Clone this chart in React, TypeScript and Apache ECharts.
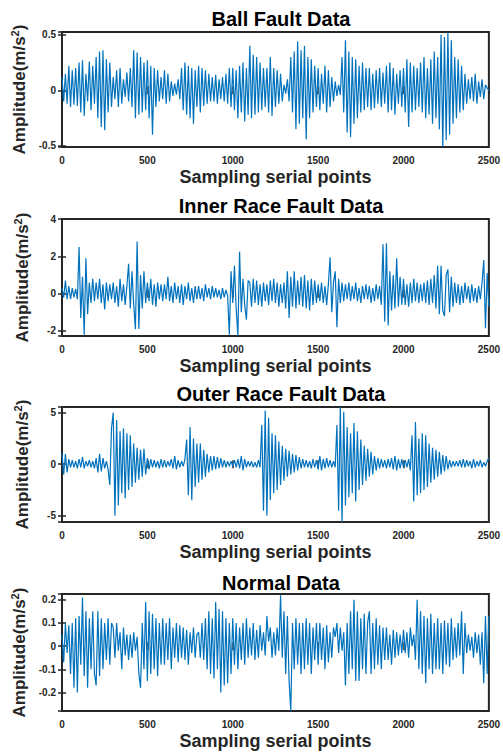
import React, { useEffect, useRef } from "react";
import * as echarts from "echarts";

const TITLES = ["Ball Fault Data", "Inner Race Fault Data", "Outer Race Fault Data", "Normal Data"];
const X_LABEL = "Sampling serial points";
const Y_LABEL = "Amplitude(m/s{sup|2})";
const SAMPLE_STEP = 10;
const X_TICKS = [0, 500, 1000, 1500, 2000, 2500];

const ballFault = [
  0.12, -0.10, 0.15, -0.12, 0.22, -0.15, 0.18, -0.13, 0.20, -0.14,
  0.25, -0.20, 0.27, -0.23, 0.15, -0.10, 0.26, -0.18, 0.22, -0.12,
  0.30, -0.25, 0.35, -0.33, 0.36, -0.36, 0.28, -0.20, 0.25, -0.15,
  0.12, -0.08, 0.18, -0.15, 0.20, -0.12, 0.10, -0.06, 0.16, -0.10,
  0.20, -0.15, 0.36, -0.25, 0.34, -0.22, 0.30, -0.20, 0.25, -0.18,
  0.27, -0.25, 0.22, -0.40, 0.20, -0.15, 0.18, -0.10, 0.12, -0.08,
  0.18, -0.12, 0.15, -0.10, 0.08, -0.05, 0.06, -0.04, 0.10, -0.08,
  0.20, -0.18, 0.25, -0.22, 0.22, -0.25, 0.20, -0.30, 0.18, -0.15,
  0.22, -0.20, 0.20, -0.14, 0.18, -0.12, 0.15, -0.10, 0.12, -0.10,
  0.14, -0.12, 0.10, -0.08, 0.12, -0.10, 0.15, -0.12, 0.20, -0.15,
  0.20, -0.18, 0.18, -0.25, 0.22, -0.20, 0.25, -0.28, 0.20, -0.22,
  0.40, -0.25, 0.32, -0.22, 0.30, -0.20, 0.25, -0.18, 0.20, -0.15,
  0.20, -0.20, 0.30, -0.23, 0.20, -0.15, 0.18, -0.12, 0.15, -0.10,
  0.05, -0.03, 0.10, -0.10, 0.30, -0.20, 0.35, -0.35, 0.44, -0.30,
  0.36, -0.25, 0.40, -0.44, 0.30, -0.25, 0.28, -0.20, 0.22, -0.15,
  0.20, -0.18, 0.15, -0.12, 0.22, -0.20, 0.18, -0.15, 0.12, -0.10,
  0.08, -0.05, 0.05, -0.04, 0.30, -0.20, 0.45, -0.38, 0.35, -0.42,
  0.30, -0.30, 0.28, -0.25, 0.22, -0.20, 0.25, -0.18, 0.20, -0.15,
  0.20, -0.18, 0.15, -0.16, 0.18, -0.12, 0.20, -0.15, 0.16, -0.12,
  0.22, -0.20, 0.25, -0.18, 0.20, -0.22, 0.15, -0.12, 0.18, -0.15,
  0.20, -0.20, 0.28, -0.33, 0.25, -0.20, 0.22, -0.18, 0.20, -0.15,
  0.25, -0.20, 0.30, -0.25, 0.20, -0.22, 0.28, -0.30, 0.35, -0.25,
  0.30, -0.35, 0.50, -0.51, 0.48, -0.45, 0.52, -0.40, 0.45, -0.30,
  0.30, -0.25, 0.28, -0.20, 0.22, -0.18, 0.15, -0.12, 0.10, -0.08,
  0.12, -0.10, 0.15, -0.12, 0.08, -0.06, 0.10, -0.08, 0.05, 0.02,
  0.0,
];

const innerRace = [
  0.3, -0.2, 0.7, -0.3, 0.4, -0.3, 0.3, -0.2, 0.25, -0.3,
  2.5, -1.3, 0.9, -2.2, 1.9, -1.1, 0.6, -0.5, 0.8, -0.4,
  0.6, -0.3, 0.8, -0.5, 0.5, -0.85, 0.6, -0.4, 0.5, -0.3,
  0.6, -0.5, 0.4, -0.7, 0.8, -0.4, 0.5, -0.6, 0.4, 1.6,
  -0.8, 1.2, -0.6, -1.9, 2.8, -1.9, 1.0, -0.8, 1.2, -0.5,
  0.6, -0.4, 0.8, -0.6, 0.5, -0.7, 0.6, -0.3, 0.5, -0.4,
  0.5, -0.3, 0.9, -0.4, 0.4, -0.5, 0.6, -0.3, 0.4, -0.5,
  0.5, -0.6, 0.4, -0.3, 0.6, -0.4, 0.3, -0.5, 0.4, -0.3,
  0.4, -0.3, 0.3, -0.4, 0.5, -0.2, 0.3, -0.3, 0.4, -0.2,
  0.3, -0.2, 0.2, -0.3, 0.3, -0.2, 0.2, -0.1, -2.2, 1.2,
  -0.5, 1.5, -0.8, -2.25, 2.25, -1.0, 0.8, -0.6, -1.4, 0.7,
  0.6, -0.7, 0.8, -0.5, 0.7, -0.6, 0.5, -0.7, 0.6, -0.4,
  0.5, -0.6, 0.7, -0.4, 0.8, -0.5, 0.6, -0.7, 0.5, -0.5,
  0.6, -0.8, 1.2, -1.3, 0.9, -0.7, 1.2, -0.8, 0.7, -0.6,
  0.9, -0.7, 1.0, -0.8, 0.7, -0.9, 0.8, -0.6, 0.7, -0.5,
  0.5, -0.4, 0.6, -0.5, 0.4, -0.6, 0.5, 1.95, -1.0, 0.6,
  1.2, -1.8, 0.8, -0.5, 0.6, -0.4, 0.5, -0.3, 0.6, -0.4,
  0.4, -0.3, 0.6, -0.4, 0.3, -0.5, 0.4, -0.3, 0.5, -0.3,
  0.4, -0.5, 0.3, -0.4, 0.5, -0.3, 0.4, -0.6, 2.65, -1.5,
  2.7, -1.7, 1.2, -0.9, 1.0, -0.8, 1.9, -0.7, 0.9, -0.6,
  0.8, -0.6, 0.5, -0.7, 0.6, -0.5, 0.8, -0.4, 0.6, -0.5,
  0.5, -0.4, 0.6, -0.5, 0.7, -0.6, 0.8, -0.5, 1.0, -0.8,
  1.5, -1.1, 1.5, -0.9, -1.2, 1.0, 1.3, -1.0, 0.9, -0.7,
  0.6, -0.5, 0.5, -0.6, 0.4, -0.5, 0.6, -0.3, 0.4, -0.5,
  0.5, -0.4, 0.3, -0.5, 0.4, -0.3, 0.6, 1.8, -1.85, 1.1,
  -0.7,
];

const outerRace = [
  1.1, -1.0, 1.0, -0.8, 0.5, -0.3, 0.4, -0.3, 0.3, -0.4,
  0.5, -0.3, 0.7, -0.4, 0.3, -0.2, 0.4, -0.3, 0.3, -0.4,
  0.6, -0.8, 1.0, -0.7, 0.6, -0.4, 0.3, -0.5, -2.0, 3.5,
  5.0, -5.0, 4.3, -4.0, 3.2, -2.8, 3.5, -3.3, 3.0, -2.5,
  2.8, -2.2, 2.0, -1.8, 1.6, -1.5, 1.4, -1.2, 1.5, -1.0,
  0.6, -0.5, 0.5, -0.3, 0.4, -0.3, 0.3, -0.4, 0.5, -0.3,
  0.4, -0.3, 0.3, -0.2, 0.5, -0.4, 0.8, -0.5, 0.4, -0.3,
  0.3, -0.2, 0.5, 2.4, -3.0, 3.6, -3.5, 2.5, -2.2, 2.0,
  -1.8, 2.0, -1.5, 1.4, -1.2, 1.0, -0.8, 0.8, -0.6, 0.8,
  -0.5, 0.7, -0.4, 0.6, -0.3, 0.4, -0.3, 0.3, -0.2, 0.3,
  -0.2, 0.4, -0.3, 0.5, -0.4, 0.8, -0.6, 0.5, -0.3, 0.3,
  -0.2, 0.3, -0.3, 0.2, -0.3, 0.4, -0.3, 3.8, -4.5, 5.2,
  -5.0, 4.5, -3.5, 3.0, -2.8, 2.8, -2.5, 2.2, -2.0, 1.8,
  -1.6, 1.5, -1.2, 1.3, -1.0, 1.0, -0.8, 0.9, -0.6, 0.7,
  -0.4, 0.5, -0.3, 0.4, -0.3, 0.3, -0.4, 0.5, -0.3, 0.4,
  -0.5, 0.8, -0.6, 0.5, -0.4, 0.6, -0.3, 0.4, -0.3, 0.3,
  -0.3, 3.8, -4.5, 5.55, -5.6, 5.1, -4.0, 3.6, -3.2, 3.0,
  -2.8, 4.0, -3.6, 3.2, -2.5, 2.4, -2.0, 1.8, -1.6, 1.5,
  -1.2, 1.2, -1.0, 0.8, -0.6, 0.6, -0.4, 0.5, -0.3, 0.4,
  -0.4, 0.5, -0.3, 0.6, -0.5, 0.8, -0.6, 0.5, -0.4, 0.5,
  -0.3, 0.4, -0.3, 0.5, -0.6, 2.8, -3.6, 4.1, -3.0, 2.5,
  -2.8, 3.0, -2.5, 2.8, -2.2, 2.0, -1.8, 1.6, -1.5, 1.4,
  -1.2, 1.2, -1.0, 0.9, -0.7, 0.8, -0.5, 0.4, -0.3, 0.3,
  -0.2, 0.3, -0.2, 0.4, -0.3, 0.5, -0.3, 0.4, -0.2, 0.3,
  -0.4, 0.5, -0.3, 0.3, -0.2, 0.4, -0.3, 0.2, -0.2, 0.3,
  0.6,
];

const normalData = [
  0.05, -0.07, 0.10, -0.03, 0.09, -0.12, 0.10, -0.18, 0.12, -0.20,
  0.13, -0.08, 0.21, -0.13, 0.15, -0.18, 0.12, -0.10, 0.15, -0.12,
  -0.17, 0.15, -0.13, 0.12, -0.10, 0.10, -0.06, 0.12, -0.08, 0.10,
  0.08, -0.05, 0.10, -0.02, 0.06, -0.10, 0.08, -0.04, 0.05, -0.06,
  0.05, -0.05, 0.06, -0.02, 0.04, -0.12, -0.18, 0.10, -0.10, 0.19,
  -0.15, 0.15, -0.12, 0.14, -0.10, 0.12, -0.13, 0.10, -0.08, 0.12,
  -0.08, 0.10, -0.06, 0.12, -0.10, 0.08, -0.05, 0.10, -0.07, 0.09,
  -0.05, 0.08, -0.06, 0.07, -0.08, 0.06, -0.03, 0.08, -0.05, 0.05,
  0.06, -0.05, 0.10, -0.06, 0.12, -0.10, 0.15, -0.12, 0.12, -0.14,
  0.19, -0.10, 0.16, -0.20, 0.15, -0.17, 0.12, -0.16, 0.10, -0.12,
  0.12, -0.08, 0.10, -0.10, 0.08, -0.06, 0.10, -0.08, 0.12, -0.05,
  0.08, -0.04, 0.10, -0.06, 0.07, -0.05, 0.09, -0.02, 0.06, -0.04,
  0.13, 0.02, 0.08, -0.05, 0.06, -0.04, 0.08, -0.02, 0.22, -0.05,
  0.15, -0.12, 0.13, -0.15, -0.28, 0.10, -0.10, 0.12, -0.08, 0.10,
  -0.12, 0.10, -0.10, 0.12, -0.08, 0.10, -0.12, 0.08, -0.06, 0.10,
  -0.08, 0.10, -0.06, 0.08, -0.10, 0.09, -0.07, 0.06, -0.05, 0.08,
  0.04, 0.10, -0.03, 0.08, -0.02, 0.06, -0.17, 0.10, -0.12, 0.15,
  -0.10, 0.20, -0.15, 0.15, -0.15, 0.12, -0.10, 0.14, -0.12, 0.10,
  0.15, -0.12, 0.10, -0.10, 0.12, -0.08, 0.09, -0.10, 0.08, -0.06,
  0.08, -0.06, 0.05, -0.08, 0.07, -0.05, 0.06, -0.04, 0.05, -0.03,
  0.07, -0.03, 0.06, -0.05, 0.08, 0.00, 0.05, -0.06, 0.20, -0.10,
  0.15, -0.12, 0.13, -0.16, 0.12, -0.10, 0.14, -0.12, 0.10, -0.10,
  0.12, -0.10, 0.10, -0.12, 0.11, -0.08, 0.10, -0.09, 0.12, -0.06,
  0.08, -0.05, 0.10, -0.04, 0.15, -0.12, 0.10, -0.03, 0.05, -0.02,
  0.04, -0.05, 0.06, -0.03, 0.05, -0.08, 0.06, -0.16, 0.13, -0.12,
  0.13,
];

const SERIES = [ballFault, innerRace, outerRace, normalData];
const Y_MIN = [-0.51, -2.27, -5.6, -0.28];
const Y_MAX = [0.525, 4, 5.55, 0.225];
const Y_STEP = [0.5, 2, 5, 0.1];

const GRID_TOP = [32, 219, 407, 594];
const GRID_H = [115, 117, 115, 117];
const TITLE_TOP = [4, 191, 379, 568];

const FONT = "'Liberation Sans', Arial, Helvetica, sans-serif";
const INK = "#262626";
const LINE = "#0072BD";

export default function App() {
  const ref = useRef<HTMLDivElement>(null);
  useEffect(() => {
    if (!ref.current) return;
    const chart = echarts.init(ref.current, undefined, { renderer: "svg" });
    const grid: any[] = [];
    const xAxis: any[] = [];
    const yAxis: any[] = [];
    const series: any[] = [];
    const title: any[] = [];
    SERIES.forEach((vals, k) => {
      grid.push({
        left: 62,
        width: 429,
        top: GRID_TOP[k],
        height: GRID_H[k],
        show: true,
        borderColor: INK,
        borderWidth: 2,
        backgroundColor: "#fff",
      });
      title.push({
        text: TITLES[k],
        left: 276,
        textAlign: "center",
        top: TITLE_TOP[k],
        textStyle: { fontFamily: FONT, fontWeight: "bold", fontSize: 20, color: "#000" },
      });
      const commonX = {
        type: "value",
        gridIndex: k,
        min: X_TICKS[0],
        max: X_TICKS[X_TICKS.length - 1],
        interval: 500,
        splitLine: { show: false },
        axisLine: { show: false },
        axisTick: { show: true, inside: true, length: 4, lineStyle: { color: INK, width: 1.5 } },
      };
      xAxis.push({
        ...commonX,
        position: "bottom",
        name: X_LABEL,
        nameLocation: "middle",
        nameGap: 21,
        nameTextStyle: { fontFamily: FONT, fontWeight: "bold", fontSize: 18, color: INK },
        axisLabel: {
          fontFamily: FONT,
          fontWeight: "bold",
          fontSize: 10,
          color: INK,
          margin: 8,
          formatter: (v: number) => String(v),
        },
      });
      xAxis.push({ ...commonX, position: "top", axisLabel: { show: false } });
      const commonY = {
        type: "value",
        gridIndex: k,
        min: Y_MIN[k],
        max: Y_MAX[k],
        minInterval: Y_STEP[k],
        maxInterval: Y_STEP[k],
        splitNumber: 3,
        splitLine: { show: false },
        axisLine: { show: false },
        axisTick: { show: true, inside: true, length: 4, lineStyle: { color: INK, width: 1.5 } },
      };
      yAxis.push({
        ...commonY,
        position: "left",
        name: Y_LABEL,
        nameLocation: "middle",
        nameGap: 30,
        nameTextStyle: {
          fontFamily: FONT,
          fontWeight: "bold",
          fontSize: 17,
          color: INK,
          rich: {
            sup: { fontFamily: FONT, fontWeight: "bold", fontSize: 11, color: INK, verticalAlign: "top", padding: [0, 0, 9, 0] },
          },
        },
        axisLabel: {
          fontFamily: FONT,
          fontWeight: "bold",
          fontSize: 10,
          color: INK,
          margin: 6,
          showMinLabel: false,
          showMaxLabel: k === 1,
        },
      });
      yAxis.push({ ...commonY, position: "right", axisLabel: { show: false } });
      series.push({
        type: "line",
        xAxisIndex: 2 * k,
        yAxisIndex: 2 * k,
        data: vals.map((v, i) => [i * SAMPLE_STEP, v]),
        showSymbol: false,
        symbol: "none",
        lineStyle: { color: LINE, width: 1.2 },
        clip: true,
        silent: true,
      });
    });
    chart.setOption({
      animation: false,
      backgroundColor: "#fff",
      title,
      grid,
      xAxis,
      yAxis,
      series,
    });
    return () => chart.dispose();
  }, []);
  return (
    <div
      ref={ref}
      style={{ position: "absolute", left: 0, top: 0, width: 503, height: 752, background: "#fff" }}
    />
  );
}
